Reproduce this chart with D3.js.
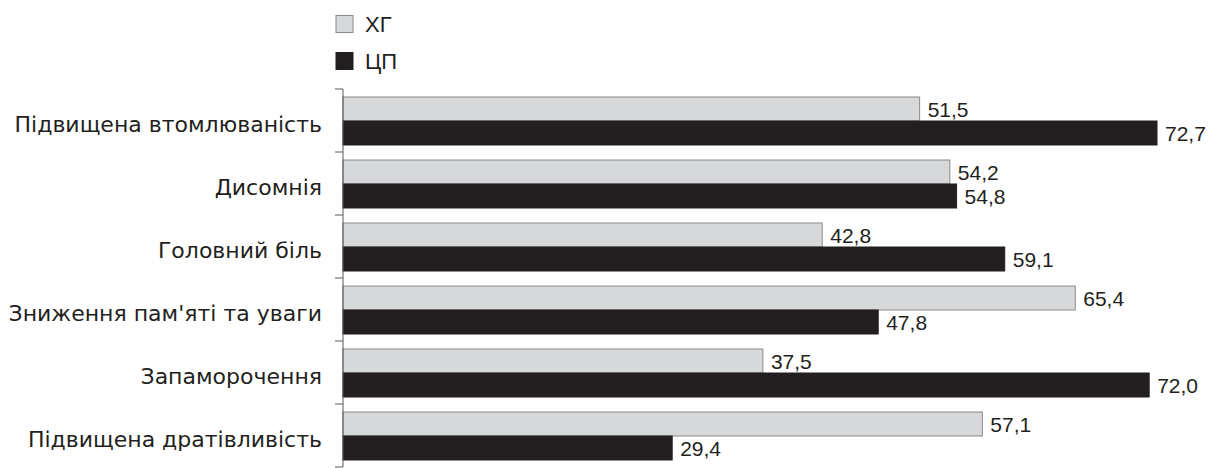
<!DOCTYPE html>
<html>
<head>
<meta charset="utf-8">
<script src="https://cdn.jsdelivr.net/npm/d3@7"></script>
<style>
  body { margin: 0; background: #fff; }
  text { font-family: "Liberation Sans", Arial, sans-serif; fill: #231f20; }
  text.cat { font-family: "DejaVu Sans", sans-serif; }
</style>
</head>
<body>
<svg id="chart"></svg>
<script>
const categories = [
  "Підвищена втомлюваність",
  "Дисомнія",
  "Головний біль",
  "Зниження пам'яті та уваги",
  "Запаморочення",
  "Підвищена дратівливість"
];
const seriesNames = ["ХГ", "ЦП"];
const valuesXG = [51.5, 54.2, 42.8, 65.4, 37.5, 57.1];
const valuesCP = [72.7, 54.8, 59.1, 47.8, 72.0, 29.4];

const config = {
  width: 1209,
  height: 468,
  axisX: 343,
  top: 89,
  bottom: 467,
  fills: ["#d7d8da", "#231f20"],
  strokes: ["#8a8a8c", "#231f20"]
};

const rows = categories.map((c, i) => ({ cat: c, vals: [valuesXG[i], valuesCP[i]] }));

const svg = d3.select("#chart")
  .attr("width", config.width)
  .attr("height", config.height);

const x = d3.scaleLinear()
  .domain([0, 72.7])
  .range([config.axisX, 1157]);

const y = d3.scaleBand()
  .domain(categories)
  .range([config.top, config.bottom]);

const ySub = d3.scaleBand()
  .domain(seriesNames)
  .range([8, 56]);

const fmt = v => d3.format(".1f")(v).replace(".", ",");

// legend
const legend = svg.append("g");
seriesNames.forEach((s, i) => {
  const ly = 15 + i * 37;
  legend.append("rect")
    .attr("x", 336).attr("y", ly + 0.5)
    .attr("width", 17).attr("height", 17)
    .attr("fill", config.fills[i])
    .attr("stroke", config.strokes[i]);
  legend.append("text")
    .attr("x", 365).attr("y", ly + 9)
    .attr("dy", "0.36em")
    .attr("font-size", 22)
    .text(s);
});

// bars
const groups = svg.selectAll("g.row")
  .data(rows)
  .join("g")
  .attr("class", "row")
  .attr("transform", d => `translate(0,${y(d.cat)})`);

groups.selectAll("rect")
  .data(d => d.vals.map((v, i) => ({ v, i })))
  .join("rect")
  .attr("x", x(0))
  .attr("y", d => ySub(seriesNames[d.i]))
  .attr("width", d => x(d.v) - x(0))
  .attr("height", ySub.bandwidth())
  .attr("fill", d => config.fills[d.i])
  .attr("stroke", d => config.strokes[d.i])
  .attr("stroke-width", 1);

groups.selectAll("text.val")
  .data(d => d.vals.map((v, i) => ({ v, i })))
  .join("text")
  .attr("class", "val")
  .attr("x", d => x(d.v) + 8)
  .attr("y", d => ySub(seriesNames[d.i]) + ySub.bandwidth() / 2)
  .attr("dy", "0.36em")
  .attr("font-size", 21)
  .text(d => fmt(d.v));

// category labels
groups.append("text")
  .attr("class", "cat")
  .attr("x", 322)
  .attr("y", y.bandwidth() / 2 + 4)
  .attr("dy", "0.36em")
  .attr("text-anchor", "end")
  .attr("font-size", 22)
  .text(d => d.cat);

// axis line with ticks on band boundaries
const axis = svg.append("g").attr("stroke", "#58585a");
axis.append("line")
  .attr("x1", config.axisX).attr("x2", config.axisX)
  .attr("y1", config.top).attr("y2", config.bottom);
const bounds = categories.map(c => y(c)).concat([config.bottom]);
axis.selectAll("line.tick")
  .data(bounds)
  .join("line")
  .attr("class", "tick")
  .attr("x1", config.axisX - 8).attr("x2", config.axisX)
  .attr("y1", d => d).attr("y2", d => d);
</script>
</body>
</html>
